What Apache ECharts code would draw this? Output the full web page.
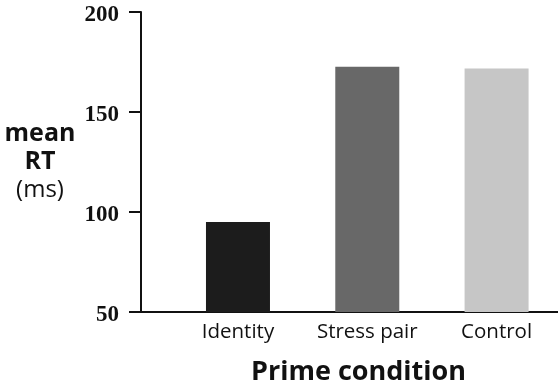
<!DOCTYPE html>
<html>
<head>
<meta charset="utf-8">
<script src="https://cdn.jsdelivr.net/npm/echarts@6/dist/echarts.min.js"></script>
<style>
  html, body { margin: 0; padding: 0; background: #fff; }
  #chart { width: 558px; height: 388px; }
</style>
</head>
<body>
<div id="chart"></div>
<script>
// data
var categories = ["Identity", "Stress pair", "Control"];
var meanRT = [95, 172.6, 171.7];
var barColors = ["#1c1c1c", "#686868", "#c6c6c6"];
var yTicks = [50, 100, 150, 200];

var chart = echarts.init(document.getElementById("chart"));

// bars sit at positions 1..n on a value axis so the axis line can run past them
var barData = meanRT.map(function (v, i) {
  return { value: [i + 1, v], itemStyle: { color: barColors[i] } };
});

var option = {
  animation: false,
  grid: { left: 141, right: 0, top: 12, bottom: 76, outerBoundsMode: "none" },
  xAxis: {
    type: "value",
    min: 0.25,
    max: 3.475,
    name: "Prime condition",
    nameLocation: "middle",
    nameGap: 47,
    nameTextStyle: {
      fontFamily: "Open Sans",
      fontWeight: "bold",
      fontSize: 27,
      color: "#111",
      padding: [0, 0, 0, 18]
    },
    axisLine: { lineStyle: { color: "#111", width: 2 } },
    axisTick: { show: false },
    splitLine: { show: false },
    axisLabel: {
      customValues: [1, 2, 3],
      formatter: function (v) { return categories[Math.round(v) - 1] || ""; },
      margin: 10,
      fontFamily: "Open Sans",
      fontSize: 20.5,
      color: "#111"
    }
  },
  yAxis: {
    type: "value",
    min: yTicks[0],
    max: yTicks[yTicks.length - 1],
    interval: 50,
    name: "{b|mean}\n{b|RT}\n{r|(ms)}",
    nameLocation: "middle",
    nameRotate: 0,
    nameGap: 101,
    nameTextStyle: {
      align: "center",
      verticalAlign: "middle",
      rich: {
        b: { fontFamily: "Open Sans", fontWeight: "bold", fontSize: 25, lineHeight: 28, color: "#111" },
        r: { fontFamily: "Open Sans", fontSize: 24, lineHeight: 28, color: "#111" }
      }
    },
    axisLine: { show: true, lineStyle: { color: "#111", width: 2 } },
    axisTick: { show: true, length: 12, lineStyle: { color: "#111", width: 2 } },
    splitLine: { show: false },
    axisLabel: {
      margin: 22,
      verticalAlign: "top",
      lineHeight: 7,
      fontFamily: "Liberation Serif",
      fontWeight: "bold",
      fontSize: 23,
      color: "#111"
    }
  },
  series: [{
    type: "bar",
    barWidth: 64,
    data: barData
  }]
};

chart.setOption(option);
</script>
</body>
</html>
